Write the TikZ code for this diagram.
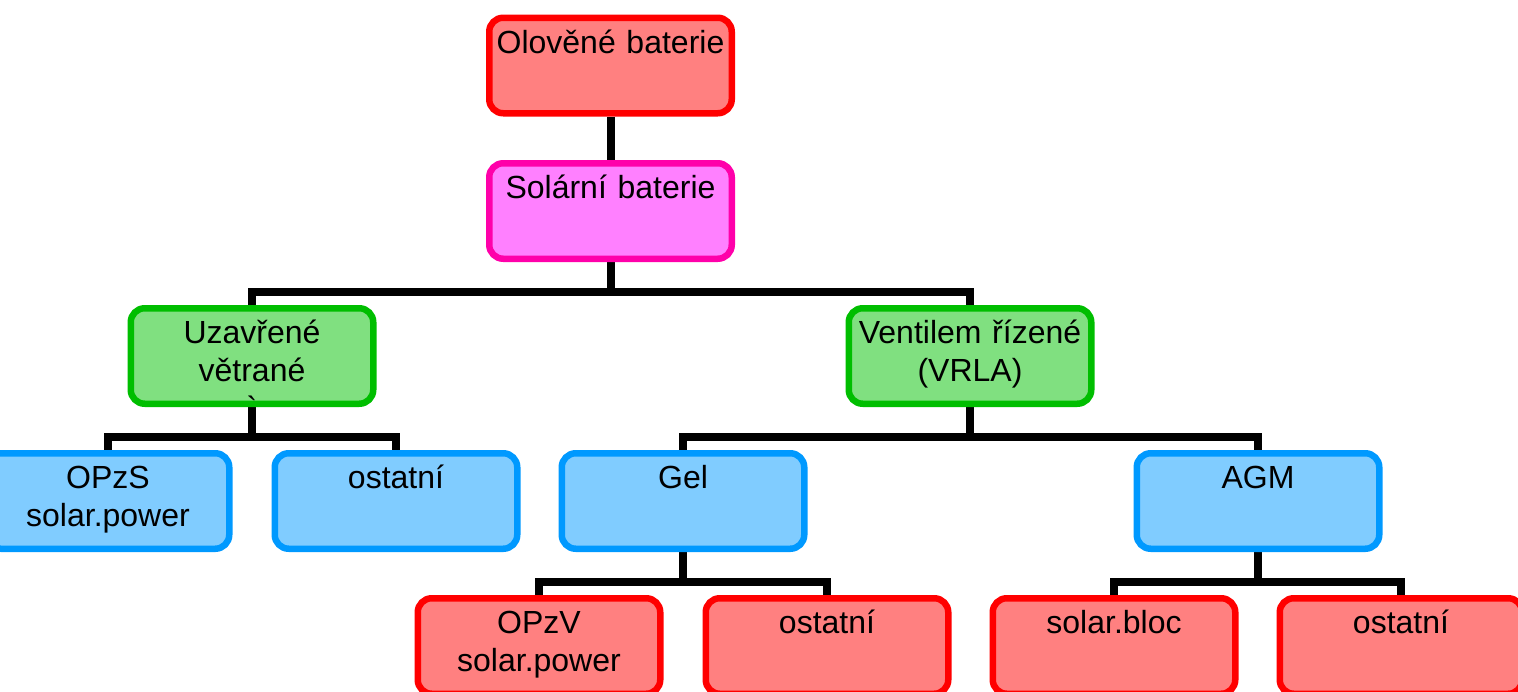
\documentclass[tikz,border=0pt]{standalone}
\usepackage{fontspec}
\setmainfont{Liberation Sans}
\usetikzlibrary{calc}
\pgfdeclarelayer{back}
\pgfdeclarelayer{bg}
\pgfsetlayers{back,bg,main}
\definecolor{redfill}{HTML}{FF8080}
\definecolor{redline}{HTML}{FF0000}
\definecolor{magfill}{HTML}{FF80FF}
\definecolor{magline}{HTML}{FF00AA}
\definecolor{grnfill}{HTML}{80E080}
\definecolor{grnline}{HTML}{00BE00}
\definecolor{blufill}{HTML}{80CCFF}
\definecolor{bluline}{HTML}{0099FF}
\tikzset{
  box/.style={draw, line width=6.5pt, rounded corners=14pt, rectangle,
    inner sep=0pt, text width=242.5pt, align=center,
    text height=35.25pt, text depth=60.25pt,
    font=\fontsize{32}{38}\selectfont},
  redbox/.style={box, fill=redfill, draw=redline},
  magbox/.style={box, fill=magfill, draw=magline},
  grnbox/.style={box, fill=grnfill, draw=grnline},
  blubox/.style={box, fill=blufill, draw=bluline},
  conn/.style={draw=black, line width=8pt, line join=miter}
}
\begin{document}
\begin{tikzpicture}[x=1pt,y=-1pt]
\useasboundingbox (0,0) rectangle (1518,691);
\begin{pgfonlayer}{back}
\fill[white] (0,0) rectangle (1518,691);
\end{pgfonlayer}
\node[redbox] (olo) at (610.5,65.5) {Olověné baterie};
\node[magbox] (sol) at (610.5,211) {Solární baterie};
\node[grnbox] (uz) at (252,356) {Uzavřené\\větrané\\\textasciigrave};
\node[grnbox] (ven) at (970,356) {Ventilem řízené\\(VRLA)};
\node[blubox] (opzs) at (108,501) {OPzS\\solar.power};
\node[blubox] (ost1) at (396,501) {ostatní};
\node[blubox] (gel) at (683,501) {Gel};
\node[blubox] (agm) at (1258,501) {AGM};
\node[redbox] (opzv) at (539,646) {OPzV\\solar.power};
\node[redbox] (ost2) at (827,646) {ostatní};
\node[redbox] (bloc) at (1114,646) {solar.bloc};
\node[redbox] (ost3) at (1401,646) {ostatní};
\begin{pgfonlayer}{bg}
\draw[conn] (olo.south) -- (sol.north);
\draw[conn] (sol.south) -- ++(0,30) -| (uz.north);
\draw[conn] (sol.south) -- ++(0,30) -| (ven.north);
\draw[conn] (uz.south) -- ++(0,30) -| (opzs.north);
\draw[conn] (uz.south) -- ++(0,30) -| (ost1.north);
\draw[conn] (ven.south) -- ++(0,30) -| (gel.north);
\draw[conn] (ven.south) -- ++(0,30) -| (agm.north);
\draw[conn] (gel.south) -- ++(0,30) -| (opzv.north);
\draw[conn] (gel.south) -- ++(0,30) -| (ost2.north);
\draw[conn] (agm.south) -- ++(0,30) -| (bloc.north);
\draw[conn] (agm.south) -- ++(0,30) -| (ost3.north);
\end{pgfonlayer}
\end{tikzpicture}
\end{document}
